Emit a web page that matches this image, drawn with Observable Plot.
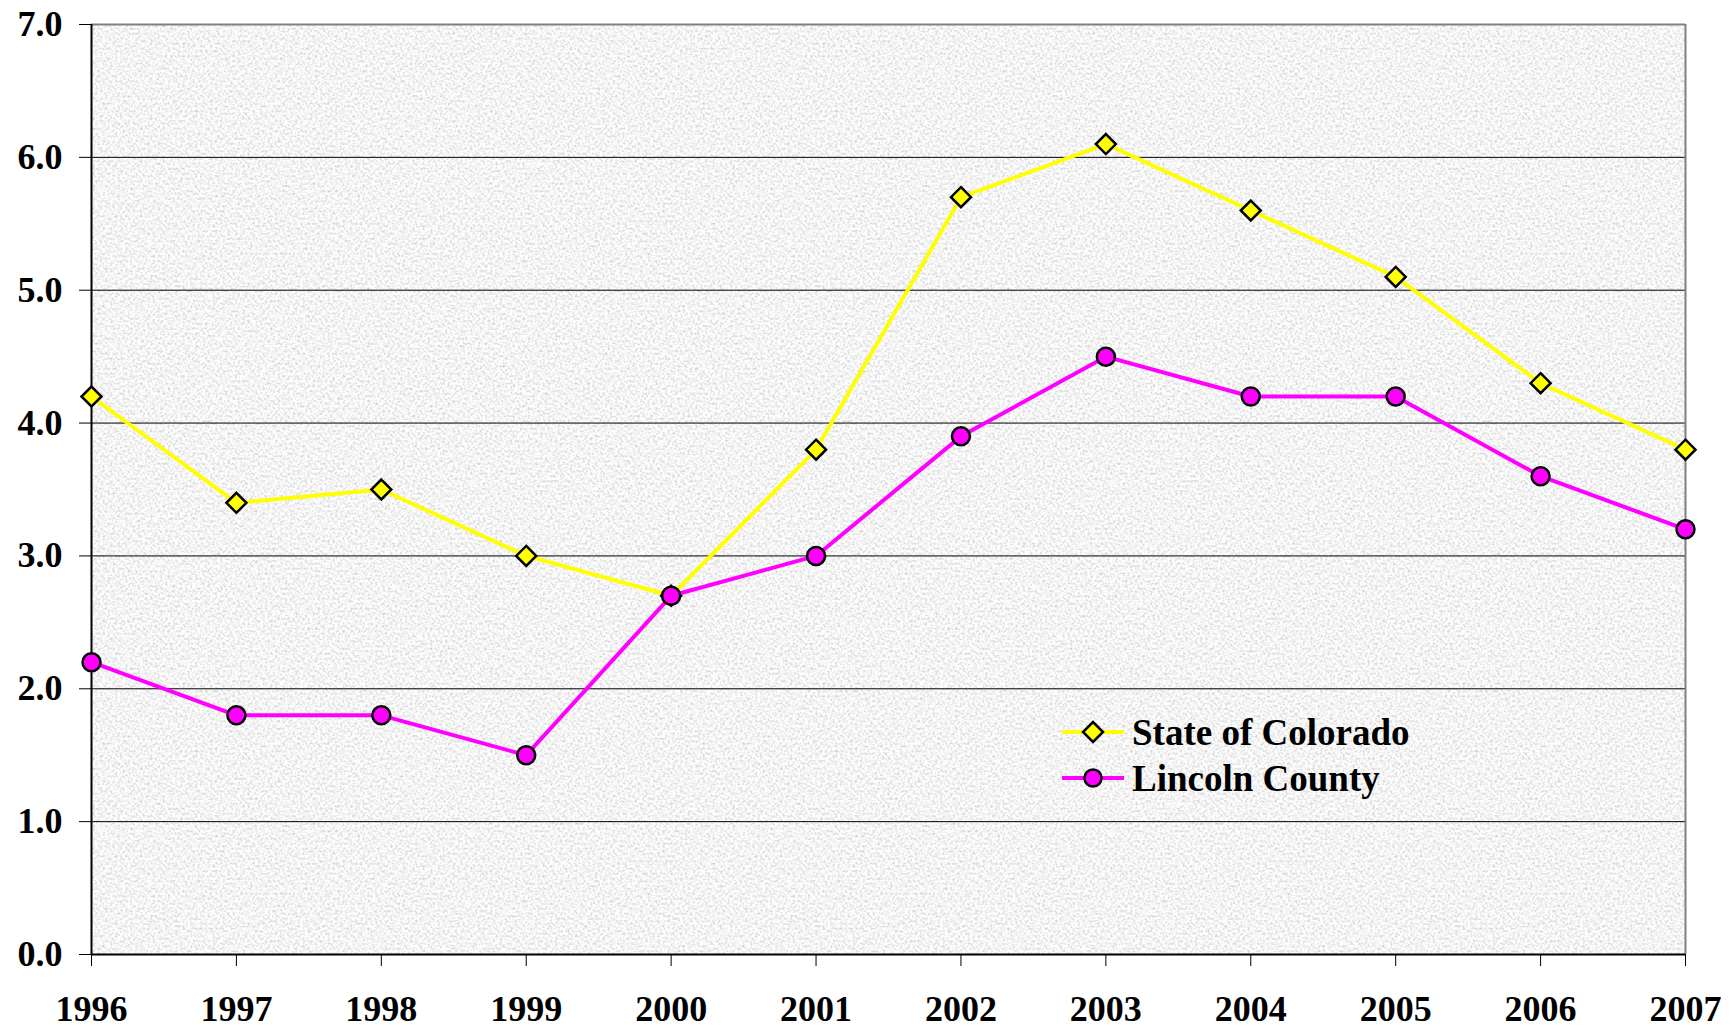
<!DOCTYPE html>
<html>
<head>
<meta charset="utf-8">
<script src="https://cdn.jsdelivr.net/npm/d3@7"></script>
<script src="https://cdn.jsdelivr.net/npm/@observablehq/plot@0.6"></script>
<style>
  html, body { margin: 0; padding: 0; background: #fff; }
  #wrap { position: relative; width: 1736px; height: 1029px; }
  .legend { position: absolute; left: 1062px; top: 709px; font-family: "Liberation Serif", "Times New Roman", serif; font-weight: bold; font-size: 37px; color: #000; }
  .legend .row { display: flex; align-items: center; height: 46px; }
  .legend svg { margin-right: 8px; }
</style>
</head>
<body>
<div id="wrap"></div>
<script>
const years = [1996, 1997, 1998, 1999, 2000, 2001, 2002, 2003, 2004, 2005, 2006, 2007];
const colorado = [4.2, 3.4, 3.5, 3.0, 2.7, 3.8, 5.7, 6.1, 5.6, 5.1, 4.3, 3.8];
const lincoln = [2.2, 1.8, 1.8, 1.5, 2.7, 3.0, 3.9, 4.5, 4.2, 4.2, 3.6, 3.2];
const seriesNames = ["State of Colorado", "Lincoln County"];
const yTicks = [0, 1, 2, 3, 4, 5, 6, 7];
const gridTicks = [1, 2, 3, 4, 5, 6];

const coData = years.map((y, i) => ({year: y, value: colorado[i]}));
const liData = years.map((y, i) => ({year: y, value: lincoln[i]}));

const font = "Liberation Serif, Times New Roman, serif";

const chart = Plot.plot({
  width: 1736,
  height: 1029,
  marginLeft: 91,
  marginRight: 51,
  marginTop: 24,
  marginBottom: 75,
  style: {fontFamily: font, fontWeight: "bold", fontSize: "36px", background: "transparent", color: "#000"},
  x: {domain: [1996, 2007], axis: null},
  y: {domain: [0, 7], axis: null},
  marks: [
    Plot.frame({fill: "#e8e8e8", stroke: "none"}),
    Plot.gridY(gridTicks, {stroke: "#000", strokeOpacity: 1, strokeWidth: 1}),
    Plot.ruleY([7], {stroke: "#808080", strokeWidth: 2}),
    Plot.ruleX([2007], {stroke: "#808080", strokeWidth: 2}),
    Plot.ruleX([1996], {stroke: "#000", strokeWidth: 2}),
    Plot.ruleY([0], {stroke: "#000", strokeWidth: 2}),
    Plot.axisY(yTicks, {tickSize: 12, tickPadding: 17, tickFormat: d3.format(".1f"), stroke: "#000", fill: "#000", fontSize: 36, fontWeight: "bold", label: null}),
    Plot.axisX(years, {tickSize: 12, tickPadding: 29, tickFormat: d => String(d), stroke: "#000", fill: "#000", fontSize: 36, fontWeight: "bold", label: null}),
    Plot.line(coData, {x: "year", y: "value", stroke: "#ffff00", strokeWidth: 4}),
    Plot.dot(coData, {x: "year", y: "value", symbol: "diamond2", r: 9, fill: "#ffff00", stroke: "#000", strokeWidth: 2.5}),
    Plot.line(liData, {x: "year", y: "value", stroke: "#ff00ff", strokeWidth: 4}),
    Plot.dot(liData, {x: "year", y: "value", symbol: "circle", r: 9, fill: "#ff00ff", stroke: "#000", strokeWidth: 2.5})
  ]
});

// granite-like texture on the plot background
const ns = "http://www.w3.org/2000/svg";
const defs = document.createElementNS(ns, "defs");
defs.innerHTML = `
  <filter id="granite" x="0" y="0" width="100%" height="100%" filterUnits="objectBoundingBox">
    <feTurbulence type="fractalNoise" baseFrequency="0.4" numOctaves="3" seed="7" result="n"/>
    <feColorMatrix in="n" type="matrix" values="0.75 0 0 0 0.53  0.75 0 0 0 0.53  0.75 0 0 0 0.53  0 0 0 0 1" result="g"/>
    <feComposite in="g" in2="SourceGraphic" operator="in"/>
  </filter>`;
chart.insertBefore(defs, chart.firstChild);
const frameRect = chart.querySelector('g[aria-label="frame"] rect, rect[aria-label="frame"]') || chart.querySelector("rect");
if (frameRect) frameRect.setAttribute("filter", "url(#granite)");

const wrap = document.getElementById("wrap");
wrap.appendChild(chart);

// legend
const legend = document.createElement("div");
legend.className = "legend";
const styles = [
  {color: "#ffff00", shape: "diamond"},
  {color: "#ff00ff", shape: "circle"}
];
seriesNames.forEach((name, i) => {
  const row = document.createElement("div");
  row.className = "row";
  const s = styles[i];
  const marker = s.shape === "diamond"
    ? `<path d="M31,13 L41,23 L31,33 L21,23 Z" fill="${s.color}" stroke="#000" stroke-width="2.5"/>`
    : `<circle cx="31" cy="23" r="8.5" fill="${s.color}" stroke="#000" stroke-width="2.5"/>`;
  row.innerHTML = `<svg width="62" height="46"><line x1="0" x2="62" y1="23" y2="23" stroke="${s.color}" stroke-width="4"/>${marker}</svg><span>${name}</span>`;
  legend.appendChild(row);
});
wrap.appendChild(legend);
</script>
</body>
</html>
